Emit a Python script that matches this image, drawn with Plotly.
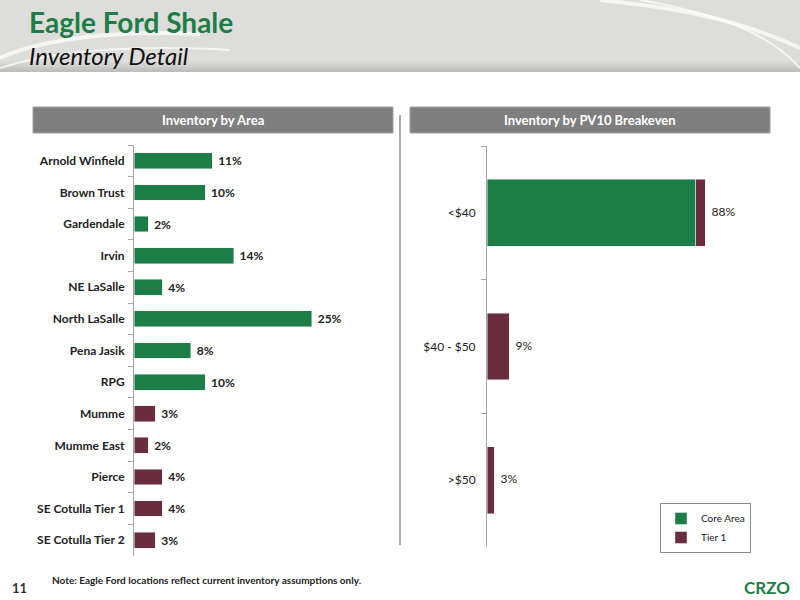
import plotly.graph_objects as go

# left chart: inventory by area
areas = ["Arnold Winfield", "Brown Trust", "Gardendale", "Irvin", "NE LaSalle",
         "North LaSalle", "Pena Jasik", "RPG", "Mumme", "Mumme East", "Pierce",
         "SE Cotulla Tier 1", "SE Cotulla Tier 2"]
area_pct = [11, 10, 2, 14, 4, 25, 8, 10, 3, 2, 4, 4, 3]
area_group = ["Core Area"] * 8 + ["Tier 1"] * 5

# right chart: inventory by PV10 breakeven
breakeven = ["<$40", "$40 - $50", ">$50"]
core_pct = [84, 0, 0]
tier1_pct = [4, 9, 3]
total_pct = [88, 9, 3]

GREEN = "#1c7d45"
MAROON = "#6b2d3d"
FONT = "Lato"
group_color = {"Core Area": GREEN, "Tier 1": MAROON}
NB = "\u00a0"

fig = go.Figure()

fig.add_trace(go.Bar(
    y=areas, x=area_pct, orientation="h", width=0.5,
    marker=dict(color=[group_color[g] for g in area_group]),
    text=[f"{NB}{v}%" for v in area_pct], textposition="outside",
    textfont=dict(family=FONT, size=12, color="#222", weight="bold"),
    cliponaxis=False, showlegend=False, xaxis="x", yaxis="y",
))

fig.add_trace(go.Bar(
    name="Core Area", y=breakeven, x=core_pct, orientation="h", width=0.5,
    marker=dict(color=GREEN), xaxis="x2", yaxis="y2",
))
fig.add_trace(go.Bar(
    name="Tier 1", y=breakeven, x=tier1_pct, orientation="h", width=0.5,
    marker=dict(color=MAROON), xaxis="x2", yaxis="y2",
))
fig.add_trace(go.Scatter(
    y=breakeven, x=total_pct, mode="text", text=[f"{NB}{NB}{v}%" for v in total_pct],
    textposition="middle right", textfont=dict(family=FONT, size=12, color="#222"),
    showlegend=False, cliponaxis=False, xaxis="x2", yaxis="y2", hoverinfo="skip",
))


def px(x):
    return x / 800


def py(y):
    return 1 - y / 600


def curve(pts):
    # cubic path from pixel points (start, c1, c2, end)
    (x0, y0), (x1, y1), (x2, y2), (x3, y3) = pts
    return (f"M {px(x0)} {py(y0)} C {px(x1)} {py(y1)}, {px(x2)} {py(y2)}, "
            f"{px(x3)} {py(y3)}")


axis_common = dict(showgrid=False, zeroline=False)

shapes = []
# header band with soft shading at the bottom
shapes.append(dict(type="rect", xref="paper", yref="paper", x0=0, x1=1, y0=py(72), y1=1,
                   fillcolor="#dddddb", line=dict(width=0), layer="below"))
for i, c in enumerate(["#d4d4d1", "#cbcbc8", "#c2c2bf", "#b8b8b5"]):
    shapes.append(dict(type="rect", xref="paper", yref="paper", x0=0, x1=1,
                       y0=py(72), y1=py(62 + i * 2.5), fillcolor=c, line=dict(width=0),
                       layer="below", opacity=0.6))
# swirls
for pts, w in [([(0, 58), (40, 40), (110, 30), (200, 34)], 4),
               ([(0, 68), (50, 52), (120, 44), (230, 50)], 2),
               ([(600, 0), (680, 8), (740, 20), (800, 48)], 4),
               ([(640, 0), (720, 14), (770, 34), (800, 68)], 2)]:
    shapes.append(dict(type="path", xref="paper", yref="paper", layer="below",
                       path=curve(pts), line=dict(color="rgba(255,255,255,0.7)", width=w)))

# section header boxes
for x0, x1 in [(33, 393), (410, 770)]:
    shapes.append(dict(type="rect", xref="paper", yref="paper", x0=px(x0), x1=px(x1),
                       y0=py(133), y1=py(107), fillcolor="#7f7f7f",
                       line=dict(color="#a0a0a0", width=1), layer="below"))
# vertical separator
shapes.append(dict(type="line", xref="paper", yref="paper", x0=px(400), x1=px(400),
                   y0=py(115), y1=py(545), line=dict(color="#8c8c8c", width=1.5)))

annotations = [
    dict(text="<b>Eagle Ford Shale</b>", x=px(27), y=py(22), xref="paper", yref="paper",
         xanchor="left", yanchor="middle", showarrow=False,
         font=dict(family=FONT, size=28, color="#1e7d47")),
    dict(text="<i>Inventory Detail</i>", x=px(27), y=py(55), xref="paper", yref="paper",
         xanchor="left", yanchor="middle", showarrow=False,
         font=dict(family=FONT, size=24, color="#111")),
    dict(text="<b>Inventory by Area</b>", x=px(213), y=py(120), xref="paper", yref="paper",
         xanchor="center", yanchor="middle", showarrow=False,
         font=dict(family=FONT, size=13, color="white")),
    dict(text="<b>Inventory by PV10 Breakeven</b>", x=px(590), y=py(120), xref="paper",
         yref="paper", xanchor="center", yanchor="middle", showarrow=False,
         font=dict(family=FONT, size=13, color="white")),
    dict(text="<b>11</b>", x=px(10), y=py(588), xref="paper", yref="paper",
         xanchor="left", yanchor="middle", showarrow=False,
         font=dict(family=FONT, size=13, color="#333")),
    dict(text="<b>Note: Eagle Ford locations reflect current inventory assumptions only.</b>",
         x=px(50), y=py(580), xref="paper", yref="paper", xanchor="left", yanchor="middle",
         showarrow=False, font=dict(family=FONT, size=10, color="#222")),
    dict(text="<b>CRZO</b>", x=px(792), y=py(587), xref="paper", yref="paper",
         xanchor="right", yanchor="middle", showarrow=False,
         font=dict(family=FONT, size=17, color="#1e7d47")),
]

fig.update_layout(
    width=800, height=600, margin=dict(l=0, r=0, t=0, b=0),
    paper_bgcolor="white", plot_bgcolor="white",
    barmode="stack", bargap=0.5,
    font=dict(family=FONT, color="#222"),
    shapes=shapes, annotations=annotations,
    xaxis=dict(domain=[px(134), px(390)], range=[0, 36], visible=False, **axis_common),
    yaxis=dict(domain=[py(556), py(145)], autorange="reversed", type="category",
               showline=True, linecolor="#a6a6a6", linewidth=1,
               ticks="outside", tickson="boundaries", ticklen=5, tickcolor="#a6a6a6",
               tickfont=dict(family=FONT, size=12, color="#222", weight="bold"),
               ticklabelstandoff=6, **axis_common),
    xaxis2=dict(domain=[px(487), px(770)], range=[0, 114], visible=False, anchor="y2",
                **axis_common),
    yaxis2=dict(domain=[py(547), py(146)], autorange="reversed", type="category",
                anchor="x2", showline=True, linecolor="#a6a6a6", linewidth=1,
                ticks="outside", tickson="boundaries", ticklen=5, tickcolor="#a6a6a6",
                tickfont=dict(family=FONT, size=12, color="#222"),
                ticklabelstandoff=8, **axis_common),
    legend=dict(x=px(660), y=py(503), xanchor="left", yanchor="top",
                bgcolor="white", bordercolor="#8c8c8c", borderwidth=1,
                font=dict(family=FONT, size=10, color="#222"), traceorder="normal",
                itemwidth=30, tracegroupgap=0),
)

fig.write_html("out.html", config={"displayModeBar": False},
               post_script="document.body.style.margin='0';")
